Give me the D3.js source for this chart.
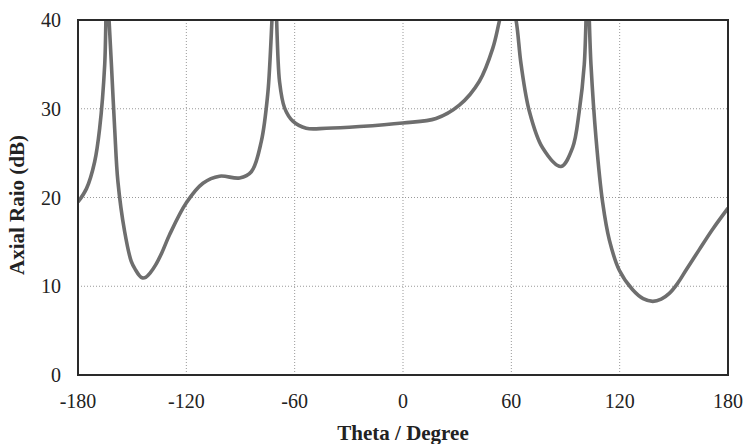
<!DOCTYPE html>
<html>
<head>
<meta charset="utf-8">
<script src="https://cdn.jsdelivr.net/npm/d3@7"></script>
<style>
  body { margin: 0; background: #fff; }
  text { font-family: "Liberation Serif", "Times New Roman", serif; fill: #222; }
  .tick-label { font-size: 20px; }
  .axis-title { font-size: 21px; font-weight: bold; }
</style>
</head>
<body>
<svg id="chart" width="745" height="444"></svg>
<script>
// angle (deg) and axial ratio (dB)
const theta = [
  -180, -175.3, -170.8, -168, -165.2, -164, -162.8, -161.5, -159.7, -157.9,
  -154.2, -150.5, -148, -146, -144.5, -142.5, -140, -137, -133.5, -129.3,
  -120, -110.8, -101.6, -90.5, -84, -78.5, -74.8, -71.1, -68.4, -65.6,
  -61, -53.6, -42.5, -24.1, -0.2, 18.3, 31.2, 42.3, 49.7, 53.4,
  58, 62.6, 65.4, 70, 77.3, 87.5, 93.9, 97.6, 100.4, 102.2,
  104.1, 106.9, 110.6, 114.3, 119.8, 127.2, 133, 138.3, 143, 147.5,
  152, 156.7, 164, 171.4, 180
];
const axialRatio = [
  19.5, 21.0, 24.0, 27.8, 35.0, 44, 40, 35.0, 27.8, 21.8,
  16.2, 12.8, 11.8, 11.2, 10.95, 11.0, 11.5, 12.4, 13.8, 15.8,
  19.4, 21.6, 22.4, 22.2, 22.9, 26.3, 31.9, 44, 33.1, 30.1,
  28.6, 27.8, 27.8, 28.0, 28.4, 28.9, 30.4, 33.1, 36.8, 39.9,
  44, 40, 35.0, 29.7, 25.6, 23.5, 25.6, 29.7, 35.0, 44,
  35.0, 26.7, 19.4, 15.2, 11.8, 9.6, 8.6, 8.3, 8.55, 9.2,
  10.3, 11.8, 14.1, 16.4, 18.8
];
const xTicks = [-180, -120, -60, 0, 60, 120, 180];
const yTicks = [0, 10, 20, 30, 40];

const points = theta.map((t, i) => ({ t: t, v: axialRatio[i] }));

const margin = { left: 78, right: 17, top: 20, bottom: 69 };
const width = 745, height = 444;

const x = d3.scaleLinear().domain([-180, 180]).range([margin.left, width - margin.right]);
const y = d3.scaleLinear().domain([0, 40]).range([height - margin.bottom, margin.top]);

const svg = d3.select("#chart");

svg.append("defs").append("clipPath").attr("id", "plot-clip")
  .append("rect")
  .attr("x", x(-180)).attr("y", y(40))
  .attr("width", x(180) - x(-180)).attr("height", y(0) - y(40));

// grid
svg.append("g").selectAll("line")
  .data(xTicks.slice(1, -1))
  .join("line")
  .attr("x1", d => x(d)).attr("x2", d => x(d))
  .attr("y1", y(40)).attr("y2", y(0))
  .attr("stroke", "#999").attr("stroke-width", 1).attr("stroke-dasharray", "1,2");

svg.append("g").selectAll("line")
  .data(yTicks.slice(1, -1))
  .join("line")
  .attr("x1", x(-180)).attr("x2", x(180))
  .attr("y1", d => y(d)).attr("y2", d => y(d))
  .attr("stroke", "#999").attr("stroke-width", 1).attr("stroke-dasharray", "1,2");

// curve
const line = d3.line()
  .x(d => x(d.t))
  .y(d => y(d.v))
  .curve(d3.curveCatmullRom.alpha(0.5));

svg.append("path")
  .datum(points)
  .attr("clip-path", "url(#plot-clip)")
  .attr("fill", "none")
  .attr("stroke", "#6e6e6e")
  .attr("stroke-width", 3.6)
  .attr("stroke-linejoin", "round")
  .attr("d", line);

// frame
svg.append("rect")
  .attr("x", x(-180)).attr("y", y(40))
  .attr("width", x(180) - x(-180)).attr("height", y(0) - y(40))
  .attr("fill", "none").attr("stroke", "#2a2a2a").attr("stroke-width", 2);

// tick labels
svg.append("g").selectAll("text")
  .data(xTicks)
  .join("text")
  .attr("class", "tick-label")
  .attr("x", d => x(d))
  .attr("y", y(0) + 33)
  .attr("text-anchor", "middle")
  .text(d => d);

svg.append("g").selectAll("text")
  .data(yTicks)
  .join("text")
  .attr("class", "tick-label")
  .attr("x", x(-180) - 17)
  .attr("y", d => y(d))
  .attr("dy", "0.35em")
  .attr("text-anchor", "end")
  .text(d => d);

// axis titles
svg.append("text")
  .attr("class", "axis-title")
  .attr("x", x(0))
  .attr("y", 440)
  .attr("text-anchor", "middle")
  .text("Theta / Degree");

svg.append("text")
  .attr("class", "axis-title")
  .attr("transform", `translate(24 ${205}) rotate(-90)`)
  .attr("text-anchor", "middle")
  .text("Axial Raio (dB)");
</script>
</body>
</html>
